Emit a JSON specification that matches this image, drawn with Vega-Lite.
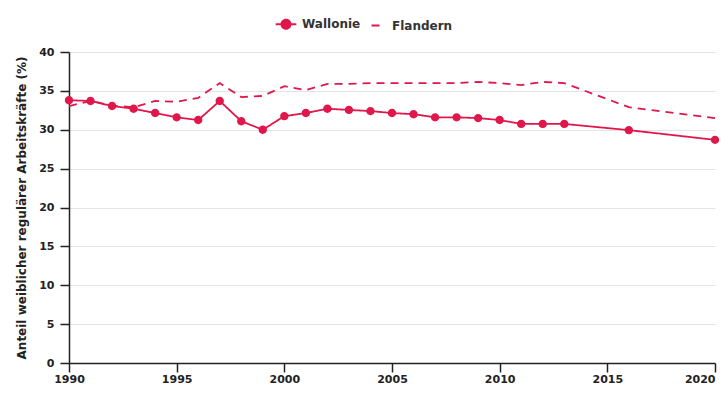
{
  "$schema": "https://vega.github.io/schema/vega-lite/v6.json",
  "width": 646,
  "height": 311,
  "autosize": {"type": "none"},
  "padding": {"left": 69, "top": 52, "right": 10, "bottom": 37},
  "config": {
    "font": "DejaVu Sans",
    "view": {"stroke": null},
    "axis": {"labelFont": "DejaVu Sans", "labelFontWeight": "bold", "labelFontSize": 11, "labelColor": "#222", "titleFontWeight": "bold", "titleFontSize": 12, "titleColor": "#222", "domainColor": "#222", "tickColor": "#222", "domainWidth": 1.5, "tickWidth": 1.5, "gridColor": "#e4e4e4"},
    "legend": {"labelFontWeight": "bold", "labelFontSize": 12, "labelColor": "#333"}
  },
  "data": {
    "values": [
      {"year": 1990, "series": "Wallonie", "value": 33.8},
      {"year": 1991, "series": "Wallonie", "value": 33.7},
      {"year": 1992, "series": "Wallonie", "value": 33.05},
      {"year": 1993, "series": "Wallonie", "value": 32.7},
      {"year": 1994, "series": "Wallonie", "value": 32.15},
      {"year": 1995, "series": "Wallonie", "value": 31.6},
      {"year": 1996, "series": "Wallonie", "value": 31.25},
      {"year": 1997, "series": "Wallonie", "value": 33.7},
      {"year": 1998, "series": "Wallonie", "value": 31.1},
      {"year": 1999, "series": "Wallonie", "value": 30.0},
      {"year": 2000, "series": "Wallonie", "value": 31.75},
      {"year": 2001, "series": "Wallonie", "value": 32.15},
      {"year": 2002, "series": "Wallonie", "value": 32.7},
      {"year": 2003, "series": "Wallonie", "value": 32.55},
      {"year": 2004, "series": "Wallonie", "value": 32.4},
      {"year": 2005, "series": "Wallonie", "value": 32.15},
      {"year": 2006, "series": "Wallonie", "value": 32.0},
      {"year": 2007, "series": "Wallonie", "value": 31.6},
      {"year": 2008, "series": "Wallonie", "value": 31.6},
      {"year": 2009, "series": "Wallonie", "value": 31.5},
      {"year": 2010, "series": "Wallonie", "value": 31.25},
      {"year": 2011, "series": "Wallonie", "value": 30.75},
      {"year": 2012, "series": "Wallonie", "value": 30.75},
      {"year": 2013, "series": "Wallonie", "value": 30.75},
      {"year": 2016, "series": "Wallonie", "value": 29.95},
      {"year": 2020, "series": "Wallonie", "value": 28.7},
      {"year": 1990, "series": "Flandern", "value": 33.05},
      {"year": 1991, "series": "Flandern", "value": 33.7},
      {"year": 1992, "series": "Flandern", "value": 33.1},
      {"year": 1993, "series": "Flandern", "value": 32.9},
      {"year": 1994, "series": "Flandern", "value": 33.7},
      {"year": 1995, "series": "Flandern", "value": 33.6},
      {"year": 1996, "series": "Flandern", "value": 34.1},
      {"year": 1997, "series": "Flandern", "value": 36.0},
      {"year": 1998, "series": "Flandern", "value": 34.2},
      {"year": 1999, "series": "Flandern", "value": 34.35},
      {"year": 2000, "series": "Flandern", "value": 35.6},
      {"year": 2001, "series": "Flandern", "value": 35.1},
      {"year": 2002, "series": "Flandern", "value": 35.9},
      {"year": 2003, "series": "Flandern", "value": 35.9},
      {"year": 2004, "series": "Flandern", "value": 36.0},
      {"year": 2005, "series": "Flandern", "value": 36.0},
      {"year": 2006, "series": "Flandern", "value": 36.0},
      {"year": 2007, "series": "Flandern", "value": 36.0},
      {"year": 2008, "series": "Flandern", "value": 36.0},
      {"year": 2009, "series": "Flandern", "value": 36.15},
      {"year": 2010, "series": "Flandern", "value": 36.0},
      {"year": 2011, "series": "Flandern", "value": 35.75},
      {"year": 2012, "series": "Flandern", "value": 36.15},
      {"year": 2013, "series": "Flandern", "value": 36.0},
      {"year": 2016, "series": "Flandern", "value": 32.9},
      {"year": 2020, "series": "Flandern", "value": 31.5}
    ]
  },
  "encoding": {
    "x": {"field": "year", "type": "quantitative", "scale": {"domain": [1990, 2020], "nice": false, "zero": false},
          "axis": {"values": [1990, 1995, 2000, 2005, 2010, 2015, 2020], "format": "d", "title": null, "grid": false, "tickSize": 9, "labelPadding": 1, "labelFlush": false, "labelBound": false, "labelOverlap": false,
                   "labelAlign": {"expr": "datum.value == 2020 ? 'right' : 'center'"}}},
    "y": {"field": "value", "type": "quantitative", "scale": {"domain": [0, 40], "nice": false},
          "axis": {"values": [0, 5, 10, 15, 20, 25, 30, 35, 40], "title": "Anteil weiblicher regulärer Arbeitskräfte (%)", "tickSize": 9, "labelPadding": 6, "titlePadding": 10}},
    "color": {"field": "series", "type": "nominal", "scale": {"domain": ["Wallonie", "Flandern"], "range": ["#e0174a", "#e0174a"]},
              "legend": {"title": null, "orient": "none", "direction": "horizontal", "legendX": 211, "legendY": -34, "columnPadding": 6, "symbolSize": 81, "labelOffset": 10,
                         "encode": {"symbols": {"update": {"stroke": {"value": "#e0174a"}, "strokeWidth": {"value": 2}}}}}}
  },
  "layer": [
    {"mark": {"type": "line", "strokeWidth": 1.8},
     "encoding": {"strokeDash": {"field": "series", "type": "nominal", "scale": {"domain": ["Wallonie", "Flandern"], "range": [[1, 0], [8, 6]]},
                  "legend": {"title": null, "orient": "none", "direction": "horizontal", "legendX": 211, "legendY": -34, "columnPadding": 6, "symbolSize": 81, "labelOffset": 10,
                             "encode": {"symbols": {"update": {"stroke": {"value": "#e0174a"}, "strokeWidth": {"value": 2}}}}}}}},
    {"transform": [{"filter": "datum.series === 'Wallonie'"}],
     "mark": {"type": "point", "filled": true, "size": 70, "opacity": 1},
     "encoding": {"shape": {"field": "series", "type": "nominal", "scale": {"domain": ["Wallonie", "Flandern"], "range": ["M-2.3,0L2.3,0M1,0A1,1 0 1,1 -1,0A1,1 0 1,1 1,0Z", "stroke"]},
                  "legend": {"title": null, "orient": "none", "direction": "horizontal", "legendX": 211, "legendY": -34, "columnPadding": 6, "symbolSize": 81, "labelOffset": 10,
                             "encode": {"symbols": {"update": {"stroke": {"value": "#e0174a"}, "strokeWidth": {"value": 2}}}}}}}}
  ]
}
